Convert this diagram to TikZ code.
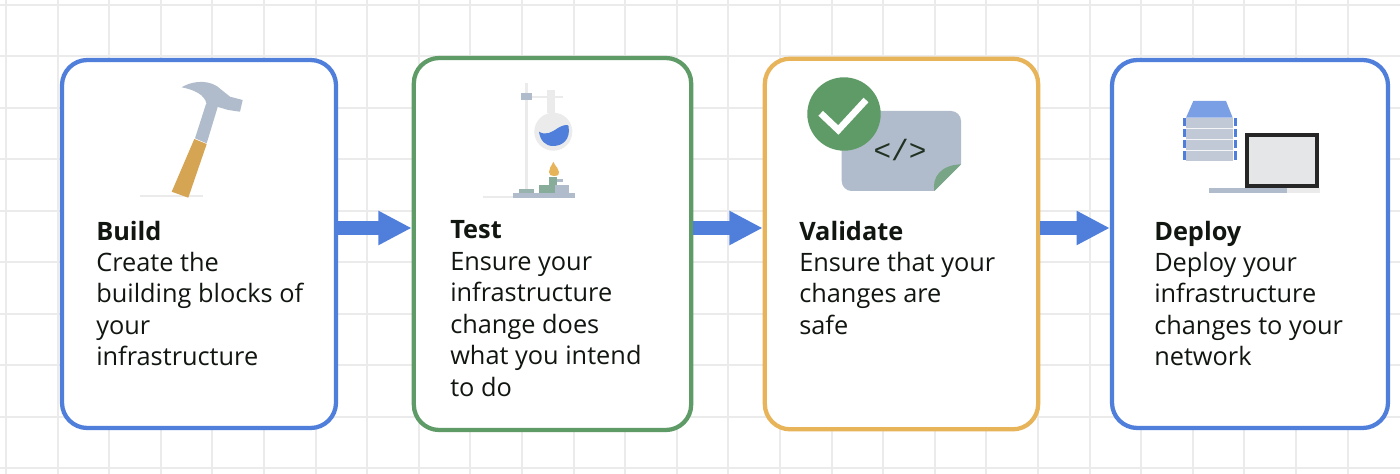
\documentclass[tikz,border=0pt]{standalone}
\usepackage{fontspec}
\setmainfont{Open Sans}
\newfontfamily\codefont{Liberation Mono}
\usetikzlibrary{arrows.meta}
\definecolor{flowblue}{HTML}{4F7FDB}
\definecolor{flowgreen}{HTML}{5F9B67}
\definecolor{floworange}{HTML}{E8B45A}
\definecolor{iconslate}{HTML}{B0BCCB}
\definecolor{gridgrey}{HTML}{EBEBEB}
\definecolor{inkblack}{HTML}{111611}
\tikzset{
  stepcard/.style={rectangle, rounded corners=19pt, fill=white, line width=3.2pt, minimum height=276pt},
  steptext/.style={anchor=north west, inner sep=0pt, align=left, text=inkblack, font=\fontsize{19pt}{23.6pt}\selectfont},
  flowarrow/.style={draw=flowblue, line width=9.8pt, -{Triangle[length=25pt,width=24pt,fill=flowblue]}},
}
\begin{document}
\begin{tikzpicture}[x=0.75pt,y=-0.75pt]
\useasboundingbox (0,0) rectangle (1400,474);
\fill[white] (0,0) rectangle (1400,474);
% grid
\foreach \gx in {0,...,26}
  \draw[gridgrey, line width=1.5pt] ({6+51.6*\gx},0) -- ({6+51.6*\gx},474);
\foreach \gy in {0,...,9}
  \draw[gridgrey, line width=1.5pt] (0,{4.7+51.5*\gy}) -- (1400,{4.7+51.5*\gy});
% cards
\node[stepcard, draw=flowblue, minimum width=205.5pt] (build) at (199,244){};
\node[stepcard, draw=flowgreen, minimum width=208pt, minimum height=279pt] (test) at (552.5,244){};
\node[stepcard, draw=floworange, minimum width=205pt, minimum height=278pt] (validate) at (901.5,244){};
\node[stepcard, draw=flowblue, minimum width=207pt] (deploy) at (1250,244){};
\draw[flowarrow] ([yshift=12pt]build.east) -- ([yshift=12pt]test.west);
\draw[flowarrow] ([yshift=12pt]test.east) -- ([yshift=12pt]validate.west);
\draw[flowarrow] ([yshift=12pt]validate.east) -- ([yshift=12pt]deploy.west);
% labels
\node[steptext] (buildtext) at (96,220.5){\textbf{Build}\\Create the\\building blocks of\\your\\infrastructure};
\node[steptext] (testtext) at (450,220.5){\textbf{Test}\\Ensure your\\infrastructure\\change does\\what you intend\\to do};
\node[steptext] (validatetext) at (799,220.5){\textbf{Validate}\\Ensure that your\\changes are\\safe};
\node[steptext] (deploytext) at (1154,220.5){\textbf{Deploy}\\Deploy your\\infrastructure\\changes to your\\network};
% hammer
\fill[gridgrey] (140,195) rectangle (203,197);
\fill[iconslate] (195,138.3) -- (206,104) -- (218,106) -- (206.7,143.3) -- cycle;
\fill[iconslate] (181.7,87.3) .. controls (190,82) and (205,79) .. (216.7,86) -- (230,96.7) -- (242.7,100) -- (240,111.7) -- (228.3,110) -- (218,107) -- (206.7,107) .. controls (207,98) and (200,91) .. cycle;
\fill[floworange!92!black] (194.3,139) -- (206.7,144) -- (188.3,197.7) -- (171.7,191.7) -- cycle;
% flask and burner
\fill[gridgrey] (525.2,83) rectangle (528.2,190);
\fill[gridgrey] (531.7,95.7) rectangle (563,98.2);
\fill[gridgrey] (546.7,90) rectangle (555,113);
\fill[gridgrey] (553.3,131.7) circle (19);
\fill[iconslate] (521,93.3) rectangle (531.7,100);
\fill[flowblue] (539,131.7) .. controls (546,136) and (552,132) .. (558,128) .. controls (563,125) and (568,124) .. (568.5,126) .. controls (571,140) and (562,146) .. (553,146) .. controls (545,146) and (540,140) .. cycle;
\fill[floworange] (553.3,161.7) .. controls (556,168) and (559,168) .. (559,172) .. controls (559,176) and (556,176) .. (554,176) .. controls (551,176) and (549,175) .. (549,172) .. controls (549,168) and (551,167) .. cycle;
\fill[gridgrey] (483.3,196) rectangle (513.3,198);
\fill[iconslate] (513.3,193.3) rectangle (575,198);
\fill[iconslate!70!flowgreen] (519,189.3) rectangle (534.3,193.3);
\fill[iconslate] (539,185) rectangle (569,193.3);
\fill[iconslate!50!flowgreen] (539,185) rectangle (555,193.3);
\fill[iconslate!50!flowgreen] (549.3,176.7) rectangle (557.3,185);
\fill[iconslate] (557,179.3) rectangle (562.7,181.7);
% code sheet
\fill[iconslate] (841.7,121) arc (180:270:10) -- (951,111) arc (270:360:10) -- (961,164.3) -- (934.3,191) -- (851.7,191) arc (90:180:10) -- cycle;
\fill[flowgreen!70!iconslate] (934.3,191) .. controls (932,178) and (940,165) .. (961,164.3) -- cycle;
\fill[flowgreen] (844,114) circle (36.7);
\draw[white, line width=5pt] (820.7,113.3) -- (838.3,130) -- (866,100);
\node[inner sep=0pt, text=inkblack!80!flowgreen, font=\codefont\fontsize{22pt}{22pt}\selectfont] (codemark) at (900,150){</>};
% server and monitor
\fill[flowblue!75!white] (1193.3,101) -- (1226,101) -- (1232.7,117.7) -- (1186,117.7) -- cycle;
\fill[iconslate!80!white] (1186,117.7) rectangle (1233.3,161);
\foreach \ry in {127.7,138.7,149.7}
  \fill[white!85!iconslate] (1186,\ry) rectangle (1233.3,{\ry+1.5});
\foreach \ry/\rh in {118.3/8,129.5/8,140.5/8,151.5/9}{
  \fill[flowblue] (1183.3,\ry) rectangle (1185.7,{\ry+\rh});
  \fill[flowblue] (1234,\ry) rectangle (1236.7,{\ry+\rh});
}
\fill[iconslate] (1209.3,188.3) rectangle (1286.7,193.3);
\fill[gridgrey] (1286.7,188.3) rectangle (1320,193.3);
\filldraw[draw=black!85, fill=gridgrey!90!iconslate, line width=3pt] (1247,135.5) rectangle (1317,186);
\end{tikzpicture}
\end{document}
